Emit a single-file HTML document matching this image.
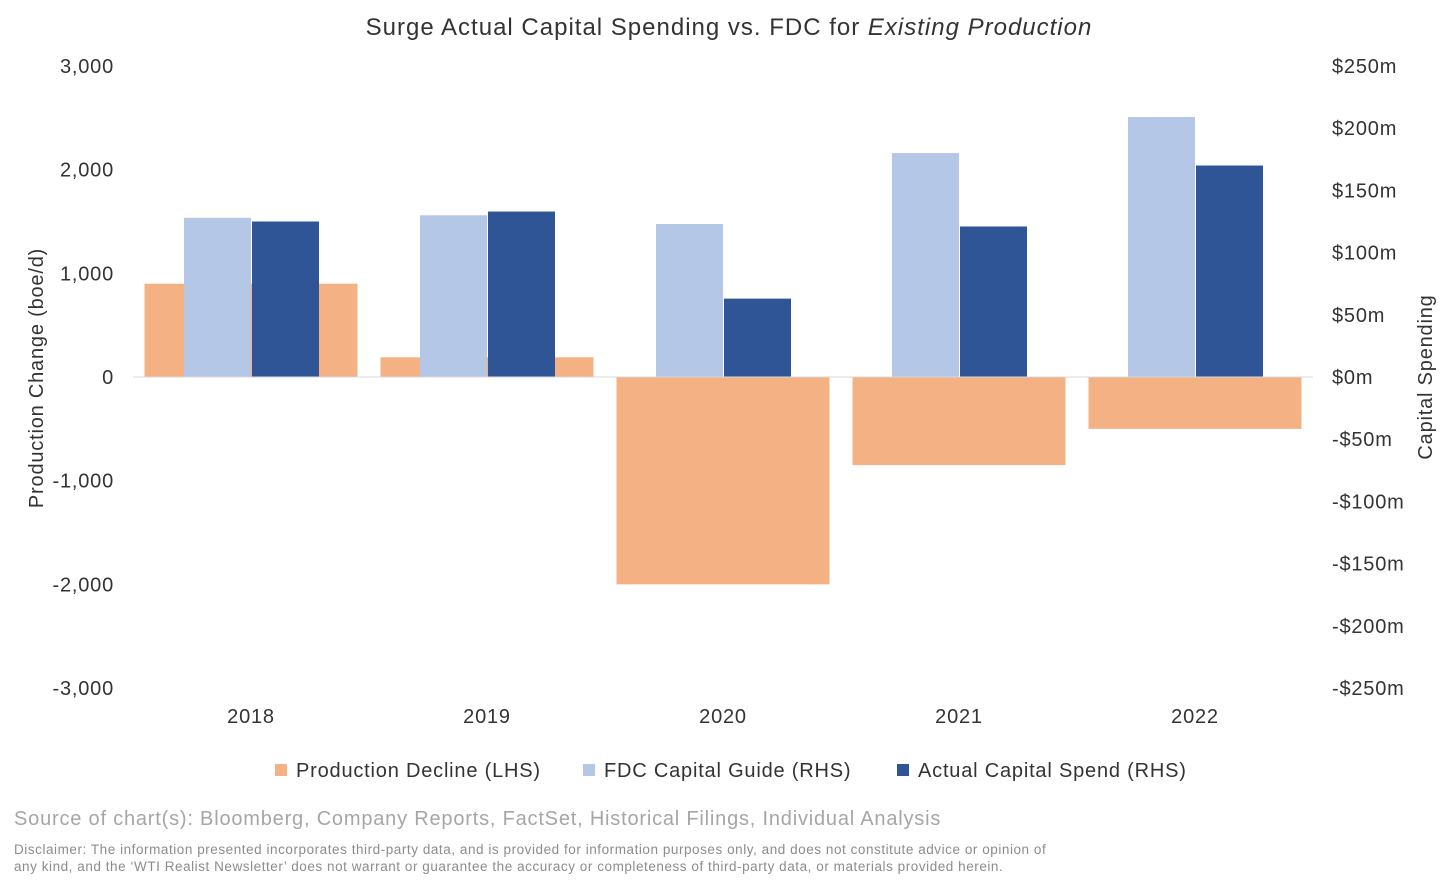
<!DOCTYPE html>
<html><head><meta charset="utf-8"><style>
body{margin:0;background:#fff;font-family:"Liberation Sans",Arial,sans-serif;}
#wrap{position:relative;width:1456px;height:894px;overflow:hidden;}
.t{position:absolute;white-space:nowrap;}
svg text{letter-spacing:0.8px;}
</style></head><body>
<div id="wrap">
<svg id="chart" width="1456" height="894" style="position:absolute;left:0;top:0"></svg>
<div class="t" style="left:0;width:1458px;text-align:center;top:14px;font-size:24px;color:#333;letter-spacing:1px">Surge Actual Capital Spending vs. FDC for <i>Existing Production</i></div>
<div class="t" style="left:14px;top:808px;font-size:20px;color:#a6a6a6;letter-spacing:0.8px">Source of chart(s): Bloomberg, Company Reports, FactSet, Historical Filings, Individual Analysis</div>
<div class="t" style="left:14px;top:841px;font-size:13.5px;color:#8c8c8c;line-height:17px;letter-spacing:0.55px">Disclaimer: The information presented incorporates third-party data, and is provided for information purposes only, and does not constitute advice or opinion of<br>any kind, and the ‘WTI Realist Newsletter’ does not warrant or guarantee the accuracy or completeness of third-party data, or materials provided herein.</div>
</div>
<script>
const categories=["2018","2019","2020","2021","2022"];
const productionDecline=[900,190,-2000,-850,-500];
const fdcGuide=[128,130,123,180,209];
const actualSpend=[125,133,63,121,170];
const leftTicks=[3000,2000,1000,0,-1000,-2000,-3000];
const leftTickLabels=["3,000","2,000","1,000","0","-1,000","-2,000","-3,000"];
const rightTicks=[250,200,150,100,50,0,-50,-100,-150,-200,-250];
const rightTickLabels=["$250m","$200m","$150m","$100m","$50m","$0m","-$50m","-$100m","-$150m","-$200m","-$250m"];

const svg=document.getElementById('chart');
const NS='http://www.w3.org/2000/svg';
const y0=377, yTop=66;
const yL=v=>y0-v*(y0-yTop)/3000;
const yR=v=>y0-v*(y0-yTop)/250;
const xC=i=>251+i*236;
function mk(tag,attrs){const e=document.createElementNS(NS,tag);for(const k in attrs)e.setAttribute(k,attrs[k]);svg.appendChild(e);return e;}
function txt(x,y,s,anchor,size,fill){const e=mk('text',{x:x,y:y,'text-anchor':anchor,'font-size':size,fill:fill,'font-family':'Liberation Sans, Arial, sans-serif'});e.textContent=s;return e;}

leftTicks.forEach((v,i)=>{const e=txt(114,yL(v)+7,leftTickLabels[i],'end',20,'#333');

});
rightTicks.forEach((v,i)=>{const e=txt(1332,yR(v)+7,rightTickLabels[i],'start',20,'#333');

});

categories.forEach((c,i)=>{
 const x=xC(i);
 const v=productionDecline[i];
 const o=mk('rect',{x:x-106.5,y:Math.min(yL(v),y0),width:213,height:Math.abs(yL(v)-y0),fill:'#F4B183'});
 
 
 const f=mk('rect',{x:x-67,y:yR(fdcGuide[i]),width:67,height:y0-yR(fdcGuide[i]),fill:'#B4C7E7'});
 
 
 const a=mk('rect',{x:x+1,y:yR(actualSpend[i]),width:67,height:y0-yR(actualSpend[i]),fill:'#2F5597'});
 
 
 const l=txt(x,723,c,'middle',20,'#333');
 
 
});
const zl=mk('line',{x1:133,x2:1313,y1:y0,y2:y0,stroke:'#d9d9d9','stroke-width':1});



const lt=txt(0,0,'Production Change (boe/d)','middle',20,'#333');
lt.setAttribute('transform','translate(43,378) rotate(-90)');


const rt=txt(0,0,'Capital Spending','middle',20,'#333');
rt.setAttribute('transform','translate(1432,377) rotate(-90)');



const legend=[["Production Decline (LHS)","#F4B183",281],["FDC Capital Guide (RHS)","#B4C7E7",589],["Actual Capital Spend (RHS)","#2F5597",903]];
legend.forEach(l=>{
 const s=mk('rect',{x:l[2]-6,y:764,width:12,height:12,fill:l[1]});
 
 
 const t=txt(l[2]+15,777,l[0],'start',20,'#333');
 
 
});
</script>
</body></html>
